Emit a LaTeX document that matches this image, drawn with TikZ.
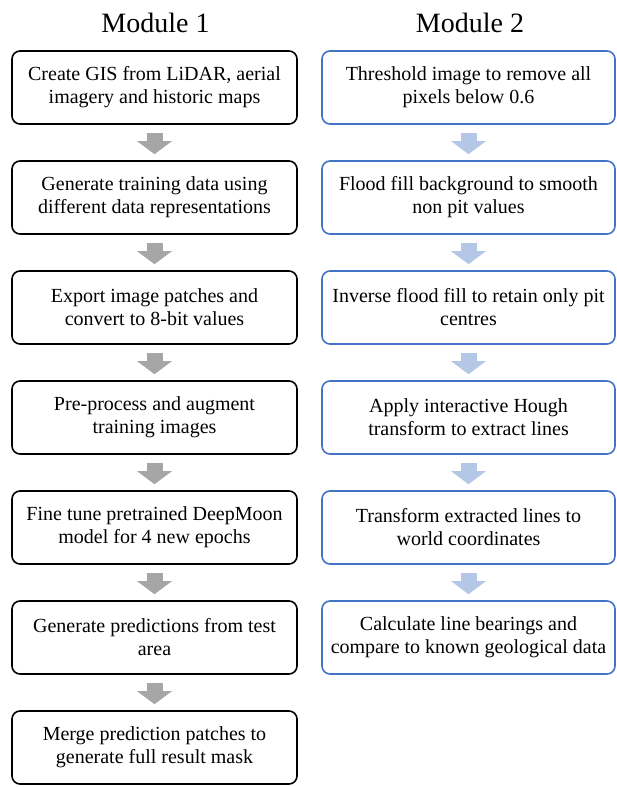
\documentclass[tikz,border=0pt]{standalone}
\usepackage{fontspec}
\setmainfont{Liberation Serif}
\usepackage{tikz}
\usetikzlibrary{arrows.meta, calc}
\definecolor{BoxBlue}{RGB}{68,114,196}
\definecolor{ArrowGrey}{RGB}{166,166,166}
\definecolor{ArrowBlue}{RGB}{180,199,231}
\tikzset{
	stage/.style={rounded corners=8pt, line width=1.6pt, align=center, inner sep=0pt, minimum height=73pt, font=\rmfamily\fontsize{20}{23}\selectfont},
	stageone/.style={stage, draw=black, minimum width=285pt},
	stagetwo/.style={stage, draw=BoxBlue, minimum width=293pt},
	flow/.style={line width=16pt, -{Triangle[length=13pt, width=34pt]}, shorten <=8pt, shorten >=6pt},
	title/.style={anchor=base, font=\rmfamily\fontsize{28}{32}\selectfont}
}

\begin{document}
\begin{tikzpicture}[x=1pt, y=-1pt]

	\useasboundingbox (0,0) rectangle (616,787);

	\node[title] (modone) at (155.5,32) {Module 1};
	\node[title] (modtwo) at (470,32) {Module 2};

	% Module 1
	\node[stageone] (create) at (154.5,87.5) {Create GIS from LiDAR, aerial\\imagery and historic maps};
	\node[stageone] (training) at (154.5,197.5) {Generate training data using\\different data representations};
	\node[stageone] (export) at (154.5,307.5) {Export image patches and\\convert to 8-bit values};
	\node[stageone] (preprocess) at (154.5,417.5) {Pre-process and augment\\training images};
	\node[stageone] (finetune) at (154.5,527.5) {Fine tune pretrained DeepMoon\\model for 4 new epochs};
	\node[stageone] (predict) at (154.5,637.5) {Generate predictions from test\\area};
	\node[stageone] (merge) at (154.5,747.5) {Merge prediction patches to\\generate full result mask};

	\draw[flow, ArrowGrey] (create) -- (training);
	\draw[flow, ArrowGrey] (training) -- (export);
	\draw[flow, ArrowGrey] (export) -- (preprocess);
	\draw[flow, ArrowGrey] (preprocess) -- (finetune);
	\draw[flow, ArrowGrey] (finetune) -- (predict);
	\draw[flow, ArrowGrey] (predict) -- (merge);

	% Module 2
	\node[stagetwo] (threshold) at (468.5,87.5) {Threshold image to remove all\\pixels below 0.6};
	\node[stagetwo] (flood) at (468.5,197.5) {Flood fill background to smooth\\non pit values};
	\node[stagetwo] (inverse) at (468.5,307.5) {Inverse flood fill to retain only pit\\centres};
	\node[stagetwo] (hough) at (468.5,417.5) {Apply interactive Hough\\transform to extract lines};
	\node[stagetwo] (world) at (468.5,527.5) {Transform extracted lines to\\world coordinates};
	\node[stagetwo] (bearings) at (468.5,637.5) {Calculate line bearings and\\compare to known geological data};

	\draw[flow, ArrowBlue] (threshold) -- (flood);
	\draw[flow, ArrowBlue] (flood) -- (inverse);
	\draw[flow, ArrowBlue] (inverse) -- (hough);
	\draw[flow, ArrowBlue] (hough) -- (world);
	\draw[flow, ArrowBlue] (world) -- (bearings);

\end{tikzpicture}
\end{document}
